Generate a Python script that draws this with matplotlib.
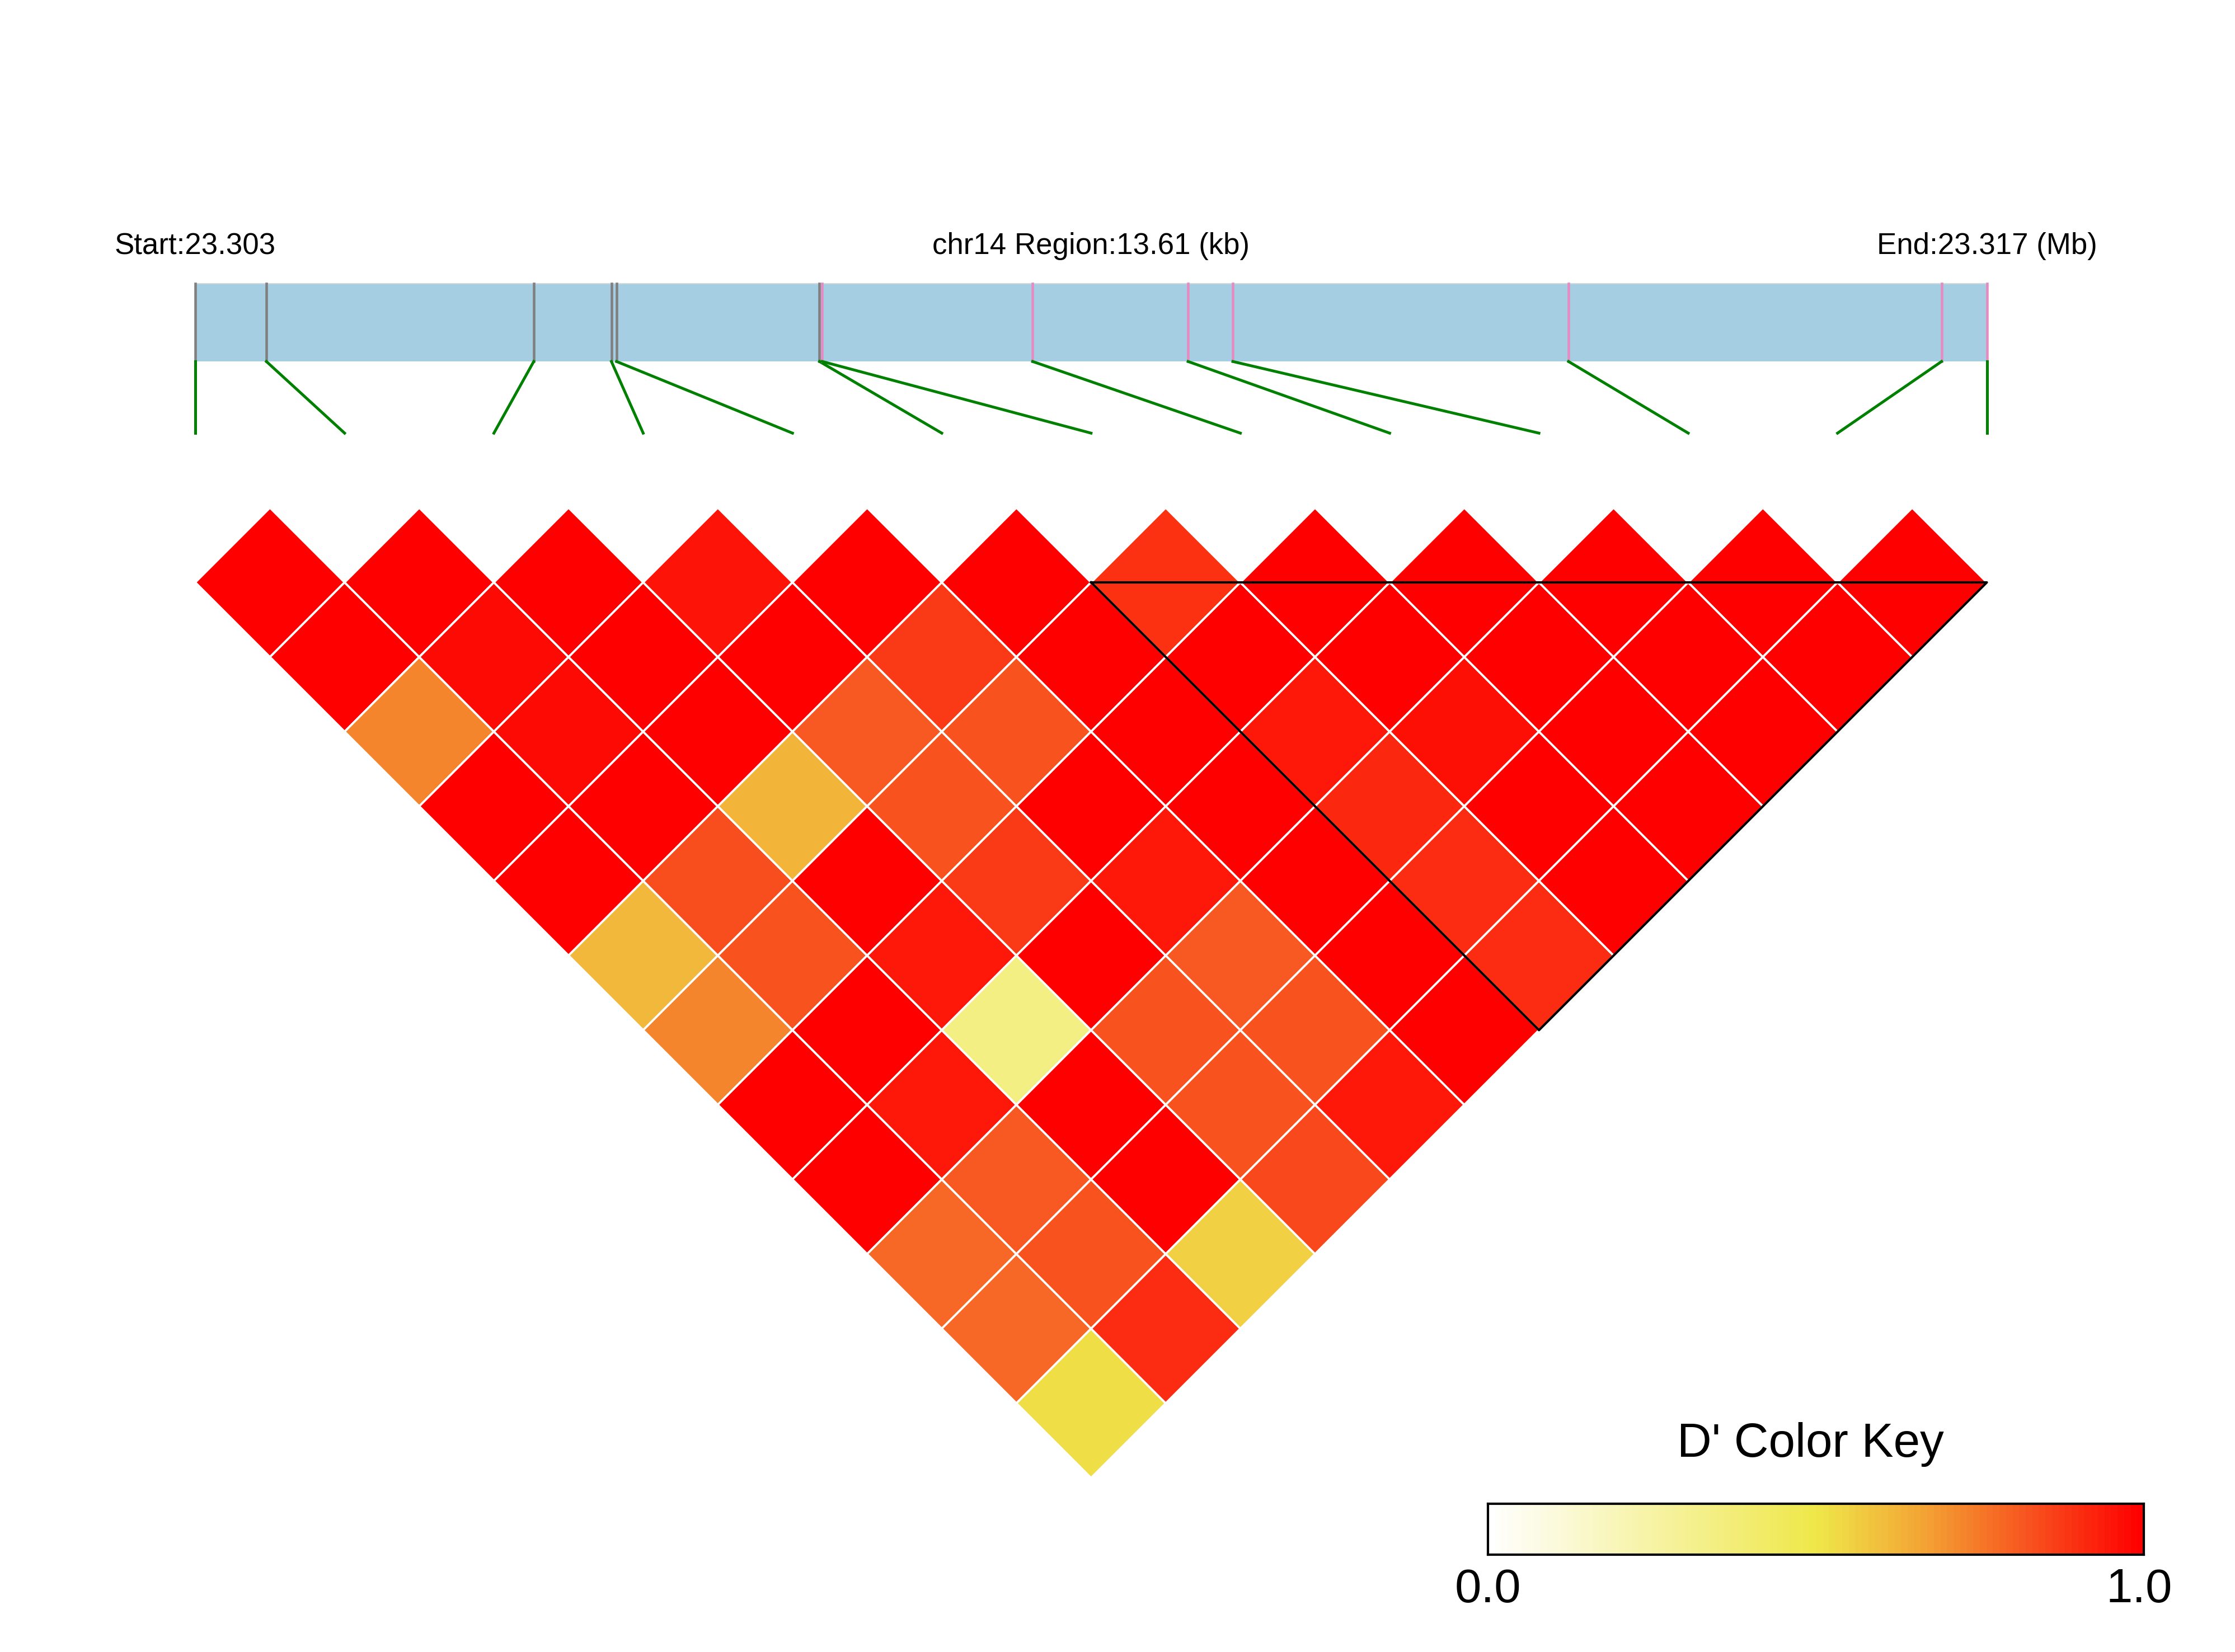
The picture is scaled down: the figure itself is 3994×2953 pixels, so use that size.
import numpy as np
import matplotlib.pyplot as plt
from matplotlib.collections import PolyCollection
from matplotlib.colors import LinearSegmentedColormap, Normalize
from matplotlib.patches import Rectangle

plt.rcParams['font.family'] = ['Liberation Sans', 'DejaVu Sans']

# SNP positions on chr14 (bp)
chrom = "chr14"
snp_pos = [23303200, 23303740, 23305771, 23306361, 23306400, 23307942, 23307963,
           23309561, 23310742, 23311082, 23313632, 23316466, 23316810]
# colour of the tick in the gene bar (first group grey, second group pink)
snp_group = [0, 0, 0, 0, 0, 0, 1, 1, 1, 1, 1, 1, 1]
group_colors = ["#808080", "#e68ac2"]

# D' values, row i = SNP i against SNPs i+1 .. 13
dprime_rows = [
    [1.00, 1.00, 0.72, 1.00, 1.00, 0.61, 0.72, 1.00, 1.00, 0.78, 0.78, 0.52],
    [1.00, 0.97, 0.97, 1.00, 0.83, 0.82, 1.00, 0.94, 0.81, 0.82, 0.90],
    [1.00, 1.00, 1.00, 0.62, 1.00, 0.94, 0.34, 1.00, 1.00, 0.55],
    [0.95, 1.00, 0.81, 0.82, 0.87, 1.00, 0.82, 0.82, 0.84],
    [1.00, 0.87, 0.82, 1.00, 0.94, 0.81, 0.82, 0.94],
    [1.00, 1.00, 1.00, 1.00, 1.00, 1.00, 1.00],
    [0.89, 1.00, 0.94, 0.91, 0.90, 0.90],
    [1.00, 1.00, 0.96, 1.00, 1.00],
    [1.00, 1.00, 1.00, 1.00],
    [1.00, 1.00, 1.00],
    [1.00, 1.00],
    [1.00],
]

# LD block outlined in black (0-based first and last SNP)
block = (6, 12)

key_colors = [(0.0, "#ffffff"), (0.5, "#efe84a"), (0.67, "#f4a234"),
              (0.83, "#f8521f"), (1.0, "#ff0000")]
cmap = LinearSegmentedColormap.from_list("dkey", key_colors, N=100)
norm = Normalize(0, 1)

n = len(snp_pos)
fig = plt.figure(figsize=(3994 / 300, 2953 / 300), dpi=300)
ax = fig.add_axes([0, 0, 1, 1])
ax.set_xlim(-1.616, 28.324)
ax.set_ylim(-15.333, 6.804)
ax.set_aspect('equal')
ax.axis('off')

# rotated heatmap cells
polys, vals = [], []
for i, row in enumerate(dprime_rows):
    for k, v in enumerate(row):
        j = i + 1 + k
        polys.append([(i + j, i - j), (i + j + 1, i - j + 1),
                      (i + j + 2, i - j), (i + j + 1, i - j - 1)])
        vals.append(v)
pc = PolyCollection(polys, cmap=cmap, norm=norm, edgecolors="white", linewidths=0.9)
pc.set_array(np.array(vals))
ax.add_collection(pc)

# block outline
b0, b1 = block
ax.plot([2 * b0 + 1, 2 * b1 + 1, b0 + b1 + 1, 2 * b0 + 1],
        [-1, -1, -1 - (b1 - b0), -1], color="black", lw=1.0, zorder=3)

# gene map bar
start, end = snp_pos[0], snp_pos[-1]
xmap = [1 + (p - start) / (end - start) * 24 for p in snp_pos]
bar_lo, bar_hi = 1.96, 3.0
ax.add_patch(Rectangle((1, bar_lo), 24, bar_hi - bar_lo, facecolor="#a6cee3", edgecolor="none"))
ax.plot([1, 25], [bar_hi, bar_hi], color="#cfd8dc", lw=0.5)
for k in range(n):
    ax.plot([xmap[k], xmap[k]], [bar_lo, bar_hi], color=group_colors[snp_group[k]], lw=1.1)
    ax.plot([xmap[k], 2 * k + 1], [bar_lo, 1.0], color="#008000", lw=1.2)

ax.text(1, 3.40, f"Start:{start / 1e6:.3f}", ha="center", va="baseline", fontsize=12.7)
ax.text(13, 3.40, f"{chrom} Region:{(end - start) / 1000:.2f} (kb)", ha="center", va="baseline", fontsize=12.7)
ax.text(25, 3.40, f"End:{end / 1e6:.3f} (Mb)", ha="center", va="baseline", fontsize=12.7)

# colour key
cax = fig.add_axes([0.6658, 0.0589, 0.2934, 0.0308])
cax.imshow(np.linspace(0, 1, 100)[None, :], cmap=cmap, norm=norm, aspect="auto",
           extent=[0, 1, 0, 1])
cax.set_xticks([])
cax.set_yticks([])
for s in cax.spines.values():
    s.set_linewidth(1.0)
    s.set_color("black")
fig.text(0.6658, 0.0302, "0.0", ha="center", va="baseline", fontsize=20.5)
fig.text(0.957, 0.0302, "1.0", ha="center", va="baseline", fontsize=20.5)
fig.text(0.81, 0.1182, "D' Color Key", ha="center", va="baseline", fontsize=20.5)

fig.savefig("out.png", dpi=300)
